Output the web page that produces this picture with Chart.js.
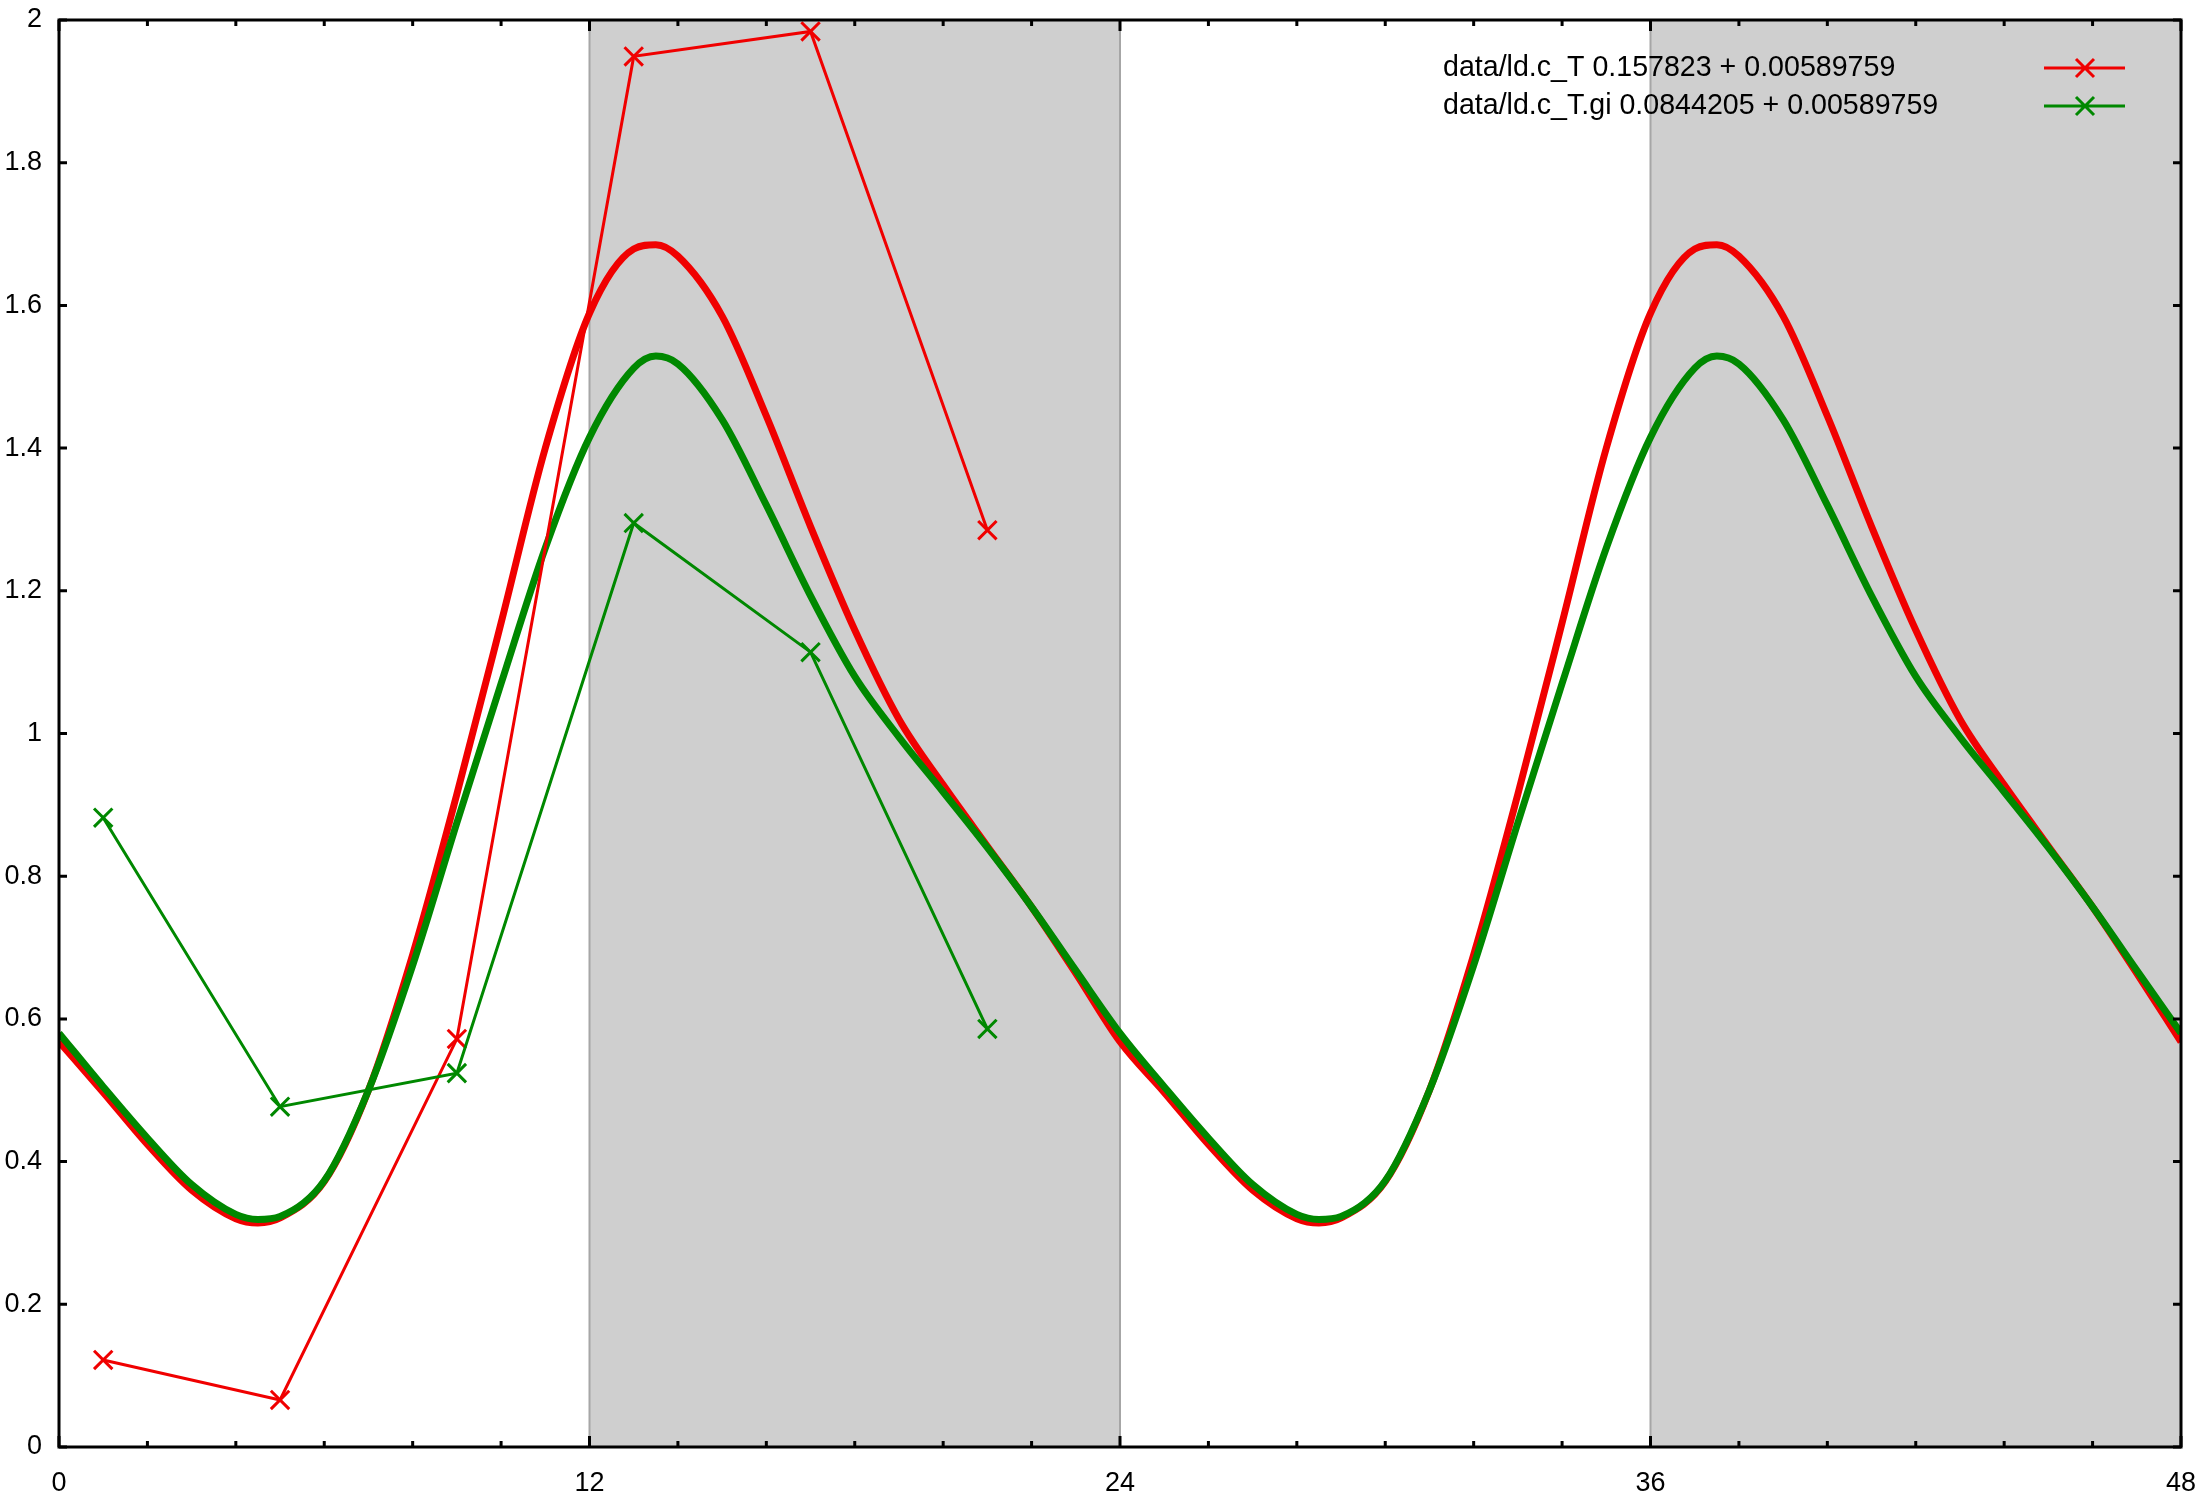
<!DOCTYPE html>
<html>
<head>
<meta charset="utf-8">
<script src="https://cdn.jsdelivr.net/npm/chart.js@4.4.1/dist/chart.umd.min.js"></script>
<style>
  html, body { margin: 0; padding: 0; background: #fff; overflow: hidden; }
  canvas { display: block; }
</style>
</head>
<body>
<canvas id="fitchart" width="2198" height="1502"></canvas>
<script>
// samples of the two fit curves, extra points at the dips and peaks
const fitHours = [0, 1, 2, 3, 4, 4.5, 5, 6, 7, 8, 9, 10, 11, 12, 13, 13.5, 14, 15, 16, 17, 18, 19, 20, 21, 22, 23, 24,
                  25, 26, 27, 28, 28.5, 29, 30, 31, 32, 33, 34, 35, 36, 37, 37.5, 38, 39, 40, 41, 42, 43, 44, 45, 46, 47, 48];
const redFit = [0.568, 0.497, 0.424, 0.36, 0.32, 0.314, 0.321, 0.372, 0.5, 0.69, 0.915, 1.155, 1.4, 1.589, 1.679, 1.685, 1.669, 1.585, 1.445, 1.29, 1.145, 1.02, 0.928, 0.842, 0.757, 0.664, 0.568,
                0.497, 0.424, 0.36, 0.32, 0.314, 0.321, 0.372, 0.5, 0.69, 0.915, 1.155, 1.4, 1.589, 1.679, 1.685, 1.669, 1.585, 1.445, 1.29, 1.145, 1.02, 0.928, 0.842, 0.757, 0.664, 0.568];
const greenFit = [0.58, 0.505, 0.433, 0.368, 0.326, 0.319, 0.323, 0.373, 0.5, 0.675, 0.875, 1.07, 1.26, 1.415, 1.512, 1.529, 1.518, 1.44, 1.32, 1.193, 1.08, 0.995, 0.918, 0.84, 0.757, 0.668, 0.58,
                  0.505, 0.433, 0.368, 0.326, 0.319, 0.323, 0.373, 0.5, 0.675, 0.875, 1.07, 1.26, 1.415, 1.512, 1.529, 1.518, 1.44, 1.32, 1.193, 1.08, 0.995, 0.918, 0.84, 0.757, 0.668, 0.58];

// measured points
const sampleHours = [1, 5, 9, 13, 17, 21];
const redData = [0.122, 0.066, 0.572, 1.949, 1.984, 1.285];
const greenData = [0.882, 0.477, 0.524, 1.295, 1.114, 0.586];

const legendLabels = ['data/ld.c_T 0.157823 + 0.00589759', 'data/ld.c_T.gi 0.0844205 + 0.00589759'];
const darkSpans = [[12, 24], [36, 48]];

const RED = '#f00000';
const GREEN = '#008800';
const FONT = '"Liberation Sans", Arial, sans-serif';

const xy = (xs, ys) => xs.map((x, i) => ({x: x, y: ys[i]}));

Chart.defaults.font.family = FONT;
Chart.defaults.color = '#000';

const frame = {
  id: 'frame',
  beforeDraw(chart) {
    const ctx = chart.ctx;
    ctx.save();
    ctx.fillStyle = '#fff';
    ctx.fillRect(0, 0, chart.width, chart.height);
    ctx.restore();
  },
  beforeDatasetsDraw(chart) {
    const {ctx, chartArea: a, scales: {x}} = chart;
    ctx.save();
    darkSpans.forEach(([s, e]) => {
      const x0 = x.getPixelForValue(s), x1 = x.getPixelForValue(e);
      ctx.fillStyle = '#cfcfcf';
      ctx.fillRect(x0, a.top, x1 - x0, a.bottom - a.top);
      ctx.strokeStyle = '#a6a6a6';
      ctx.lineWidth = 2;
      [x0, x1].forEach(px => {
        ctx.beginPath();
        ctx.moveTo(px, a.top);
        ctx.lineTo(px, a.bottom);
        ctx.stroke();
      });
    });
    ctx.restore();
  },
  afterDraw(chart) {
    const {ctx, chartArea: a, scales: {x, y}} = chart;
    ctx.save();
    ctx.strokeStyle = '#000';
    ctx.lineWidth = 3;
    ctx.strokeRect(a.left, a.top, a.right - a.left, a.bottom - a.top);
    ctx.beginPath();
    x.ticks.forEach(t => {
      const px = x.getPixelForValue(t.value);
      const len = t.value % 12 === 0 ? 11 : 6;
      ctx.moveTo(px, a.bottom); ctx.lineTo(px, a.bottom - len);
      ctx.moveTo(px, a.top); ctx.lineTo(px, a.top + len);
    });
    y.ticks.forEach(t => {
      const py = y.getPixelForValue(t.value);
      ctx.moveTo(a.left, py); ctx.lineTo(a.left + 8, py);
      ctx.moveTo(a.right, py); ctx.lineTo(a.right - 8, py);
    });
    ctx.stroke();

    // key
    ctx.font = '28.6px ' + FONT;
    ctx.textBaseline = 'middle';
    ctx.textAlign = 'left';
    [RED, GREEN].forEach((c, i) => {
      const ly = 68 + i * 38;
      ctx.fillStyle = '#000';
      ctx.fillText(legendLabels[i], 1443, ly);
      ctx.strokeStyle = c;
      ctx.lineWidth = 3;
      ctx.beginPath();
      ctx.moveTo(2044, ly); ctx.lineTo(2125, ly);
      ctx.moveTo(2085 - 9, ly - 9); ctx.lineTo(2085 + 9, ly + 9);
      ctx.moveTo(2085 + 9, ly - 9); ctx.lineTo(2085 - 9, ly + 9);
      ctx.stroke();
    });
    ctx.restore();
  }
};

new Chart(document.getElementById('fitchart'), {
  type: 'line',
  data: {
    datasets: [
      {
        data: xy(sampleHours, greenData), borderColor: GREEN, borderWidth: 3, tension: 0,
        pointStyle: 'crossRot', pointRadius: 13, pointBorderWidth: 3, pointBorderColor: GREEN, order: 0
      },
      {
        data: xy(sampleHours, redData), borderColor: RED, borderWidth: 3, tension: 0,
        pointStyle: 'crossRot', pointRadius: 13, pointBorderWidth: 3, pointBorderColor: RED, order: 1
      },
      {
        data: xy(fitHours, greenFit), borderColor: GREEN, borderWidth: 7, pointRadius: 0,
        cubicInterpolationMode: 'monotone', order: 2
      },
      {
        data: xy(fitHours, redFit), borderColor: RED, borderWidth: 7, pointRadius: 0,
        cubicInterpolationMode: 'monotone', order: 3
      }
    ]
  },
  options: {
    responsive: false,
    animation: false,
    devicePixelRatio: 1,
    layout: { padding: { top: 20, right: 17, left: 0, bottom: 0 } },
    plugins: { legend: { display: false }, tooltip: { enabled: false } },
    scales: {
      x: {
        type: 'linear', min: 0, max: 48,
        grid: { display: false, drawTicks: false },
        border: { display: false },
        ticks: {
          stepSize: 2, autoSkip: false, maxRotation: 0, padding: 20,
          font: { size: 27 },
          callback: v => (v % 12 === 0 ? String(v) : '')
        },
        afterFit: s => { s.height = 55; s.paddingLeft = 0; s.paddingRight = 0; }
      },
      y: {
        min: 0, max: 2,
        grid: { display: false, drawTicks: false },
        border: { display: false },
        ticks: {
          stepSize: 0.2, padding: 17,
          font: { size: 27 },
          callback: v => String(+v.toFixed(1))
        },
        afterFit: s => { s.width = 59; s.paddingTop = 0; s.paddingBottom = 0; }
      }
    }
  },
  plugins: [frame]
});
</script>
</body>
</html>
